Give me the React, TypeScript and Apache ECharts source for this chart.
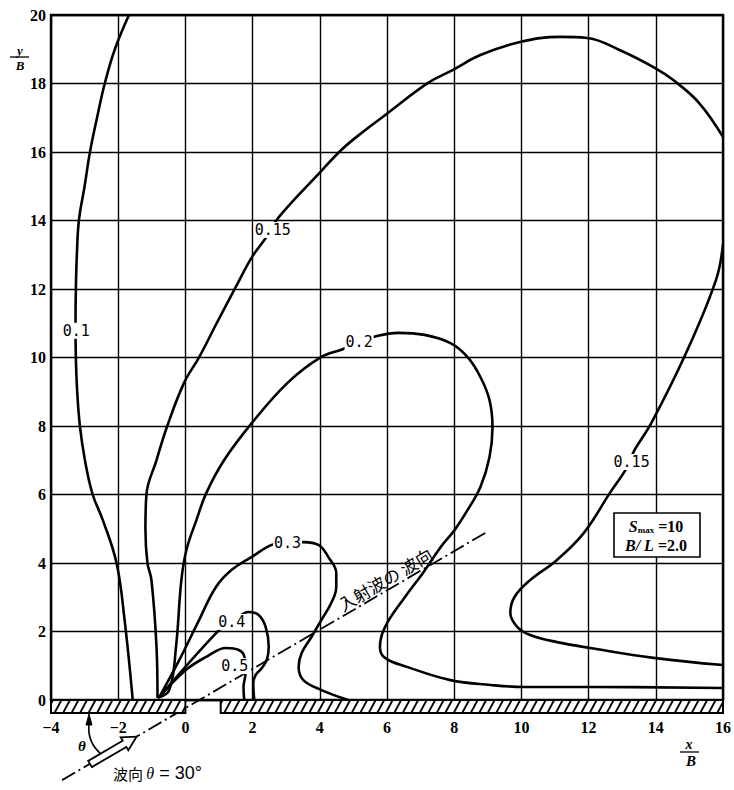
import React, { useEffect, useRef } from "react";
import * as echarts from "echarts";

// ---- axis ticks ----
const xTicks = { min: -4, max: 16, step: 2 };
const yTicks = { min: 0, max: 20, step: 2 };

// ---- contour lines (x/B, y/B) ----
const c010: number[][] = [[-1.57, 0.03], [-1.81, 2.34], [-2.05, 4.0], [-2.46, 5.26], [-2.76, 6.0], [-2.99, 7.0], [-3.14, 8.0], [-3.22, 9.0], [-3.26, 10.0], [-3.27, 11.0], [-3.26, 12.0], [-3.23, 13.0], [-3.17, 14.0], [-3.0, 15.0], [-2.84, 16.0], [-2.63, 17.0], [-2.4, 18.0], [-2.1, 19.0], [-1.68, 20.0]];
const c015a: number[][] = [[-0.83, 0.06], [-0.86, 1.55], [-1.01, 3.5], [-1.13, 4.0], [-1.19, 5.0], [-1.16, 6.0], [-0.86, 7.0], [-0.54, 8.0], [-0.04, 9.26], [0.41, 10.01], [0.93, 11.0], [1.5, 12.06], [1.98, 12.93], [2.39, 13.49], [2.78, 14.1], [4.02, 15.42], [4.64, 16.06], [5.3, 16.6], [5.95, 17.08], [7.21, 18.01], [7.95, 18.39], [8.78, 18.83], [9.96, 19.21], [11.15, 19.36], [11.95, 19.33], [12.92, 18.98], [13.93, 18.48], [14.52, 18.1], [15.29, 17.43], [16.0, 16.44]];
const c015b: number[][] = [[16.0, 13.3], [15.79, 12.26], [14.9, 10.13], [13.87, 8.09], [13.37, 7.3], [13.13, 6.77], [12.63, 6.04], [11.86, 4.88], [11.06, 4.09], [10.26, 3.5], [9.79, 3.0], [9.67, 2.54], [9.88, 2.13], [10.26, 1.9], [11.06, 1.69], [12.04, 1.52], [13.93, 1.23], [16.0, 1.02]];
const c020: number[][] = [[-0.83, 0.06], [-0.48, 0.29], [-0.28, 1.55], [-0.12, 3.5], [0.03, 4.38], [0.33, 5.26], [0.62, 6.04], [1.15, 7.0], [1.98, 8.09], [3.04, 9.26], [4.0, 9.99], [4.7, 10.25], [5.17, 10.45], [5.59, 10.6], [6.33, 10.72], [7.12, 10.66], [7.89, 10.42], [8.4, 10.01], [8.78, 9.43], [9.05, 8.76], [9.14, 7.97], [9.05, 7.09], [8.78, 6.22], [8.4, 5.55], [8.01, 4.96], [7.6, 4.47], [7.07, 3.71], [6.53, 3.0], [5.94, 2.13], [5.79, 1.55], [5.94, 1.23], [6.62, 0.96], [7.89, 0.58], [9.08, 0.44], [10.08, 0.38], [12.04, 0.38], [16.0, 0.35]];
const c030: number[][] = [[-0.78, 0.08], [-0.18, 1.17], [0.41, 2.34], [0.91, 3.3], [1.38, 3.8], [1.98, 4.18], [2.57, 4.53], [3.04, 4.6], [3.51, 4.61], [3.96, 4.53], [4.25, 4.18], [4.49, 3.71], [4.49, 3.3], [4.34, 2.83], [4.05, 2.34], [3.75, 1.84], [3.46, 1.37], [3.37, 0.96], [3.51, 0.58], [4.05, 0.29], [4.85, 0.0]];
const c040: number[][] = [[-0.78, 0.08], [1.0, 2.04], [1.38, 2.28], [1.89, 2.57], [2.18, 2.48], [2.39, 2.13], [2.48, 1.55], [2.42, 1.17], [2.27, 0.93], [2.09, 0.73], [2.02, 0.5], [2.05, 0.0]];
const c050: number[][] = [[-0.78, 0.08], [0.02, 0.88], [0.62, 1.26], [1.21, 1.52], [1.59, 1.46], [1.76, 1.25], [1.79, 0.79], [1.73, 0.38], [1.75, 0.0]];

// ---- contour labels ----
const labelX = [-3.25, 2.6, 5.17, 3.04, 1.38, 1.47, 13.28];
const labelY = [10.78, 13.72, 10.45, 4.58, 2.28, 0.99, 6.95];
const labelText = ["0.1", "0.15", "0.2", "0.3", "0.4", "0.5", "0.15"];

// ---- incident wave direction (theta = 30 deg) ----
const waveDir: number[][] = [[-3.67, -2.34], [8.93, 4.88]];

// ---- breakwater segments (x/B) ----
const breakwaterStart = [-4, 1.05];
const breakwaterEnd = [0, 16];

const FONT_SERIF = "Liberation Serif";

function contourSeries(data: number[][]) {
  return {
    type: "line",
    data,
    smooth: 0.4,
    showSymbol: false,
    symbol: "none",
    lineStyle: { color: "#000", width: 2.6 },
    z: 3,
  };
}

export default function App() {
  const ref = useRef<HTMLDivElement>(null);
  useEffect(() => {
    if (!ref.current) return;
    const chart = echarts.init(ref.current, null, { renderer: "svg" });

    // hollow arrow along wave direction (px)
    const ang = (30.4 * Math.PI) / 180;
    const ux = Math.cos(ang), uy = -Math.sin(ang);
    const nx = -uy, ny = ux;
    const T = [90, 764];
    const L = 54, HL = 14, bw = 3.6, hw = 7.5;
    const B = [T[0] + (L - HL) * ux, T[1] + (L - HL) * uy];
    const tip = [T[0] + L * ux, T[1] + L * uy];
    const arrowPts = [
      [T[0] + bw * nx, T[1] + bw * ny],
      [B[0] + bw * nx, B[1] + bw * ny],
      [B[0] + hw * nx, B[1] + hw * ny],
      tip,
      [B[0] - hw * nx, B[1] - hw * ny],
      [B[0] - bw * nx, B[1] - bw * ny],
      [T[0] - bw * nx, T[1] - bw * ny],
    ];

    const option: any = {
      animation: false,
      backgroundColor: "#fff",
      grid: {
        left: 51,
        right: 7,
        top: 15,
        bottom: 90,
        show: true,
        borderColor: "#000",
        borderWidth: 2.4,
        backgroundColor: "transparent",
      },
      xAxis: {
        type: "value",
        min: xTicks.min,
        max: xTicks.max,
        interval: xTicks.step,
        axisLine: { show: false },
        axisTick: { show: false },
        splitLine: { show: true, lineStyle: { color: "#000", width: 1.4 } },
        axisLabel: {
          margin: 19,
          fontSize: 16,
          fontWeight: "bold",
          fontFamily: FONT_SERIF,
          color: "#000",
          formatter: (v: number) => (v < 0 ? "\u2212" + -v : String(v)),
        },
      },
      yAxis: {
        type: "value",
        min: yTicks.min,
        max: yTicks.max,
        interval: yTicks.step,
        axisLine: { show: false },
        axisTick: { show: false },
        splitLine: { show: true, lineStyle: { color: "#000", width: 1.4 } },
        axisLabel: {
          margin: 5,
          fontSize: 16,
          fontWeight: "bold",
          fontFamily: FONT_SERIF,
          color: "#000",
        },
      },
      series: [
        contourSeries(c010),
        contourSeries(c015a),
        contourSeries(c015b),
        contourSeries(c020),
        contourSeries(c030),
        contourSeries(c040),
        contourSeries(c050),
        {
          type: "line",
          data: waveDir,
          clip: false,
          showSymbol: false,
          symbol: "none",
          lineStyle: { color: "#000", width: 1.8, type: [15, 4, 2, 4] },
          z: 2,
        },
        {
          type: "custom",
          clip: false,
          z: 4,
          data: breakwaterStart.map((s, i) => [s, breakwaterEnd[i]]),
          encode: { x: [0, 1] },
          renderItem: (params: any, api: any) => {
            const a = api.coord([api.value(0), 0]);
            const b = api.coord([api.value(1), 0]);
            const h = 13;
            const top = a[1];
            const bottom = top + h;
            const left = a[0];
            const right = b[0];
            const children: any[] = [
              {
                type: "rect",
                shape: { x: left, y: top, width: right - left, height: h },
                style: { fill: "#fff", stroke: "#000", lineWidth: 2 },
              },
            ];
            const d = 7;
            const step = 8.5;
            for (let s = left - d + 2; s < right; s += step) {
              let x1 = s, y1 = bottom, x2 = s + d, y2 = top;
              if (x1 < left) {
                const t = (left - x1) / d;
                x1 = left;
                y1 = bottom - t * h;
              }
              if (x2 > right) {
                const t = (x2 - right) / d;
                x2 = right;
                y2 = top + t * h;
              }
              if (x2 <= x1) continue;
              children.push({
                type: "line",
                shape: { x1, y1, x2, y2 },
                style: { stroke: "#000", lineWidth: 1.8 },
              });
            }
            return { type: "group", children };
          },
        },
        {
          type: "scatter",
          symbolSize: 0,
          itemStyle: { color: "#000", opacity: 1 },
          z: 6,
          data: labelX.map((x, i) => ({ value: [x, labelY[i]], name: labelText[i] })),
          label: {
            show: true,
            position: "inside",
            formatter: "{b}",
            fontFamily: "DejaVu Sans Mono",
            fontSize: 15,
            color: "#000",
            opacity: 1,
            backgroundColor: "#ffffff",
            padding: [1, 1, 0, 1],
          },
          emphasis: { disabled: true },
        },
      ],
      graphic: [
        // y/B
        { type: "text", z: 100, x: 20, y: 50, style: { text: "y", fontSize: 13, fontStyle: "italic", fontWeight: "bold", fontFamily: FONT_SERIF, fill: "#000", align: "center", verticalAlign: "middle" } },
        { type: "line", z: 100, shape: { x1: 10, y1: 57, x2: 29, y2: 57 }, style: { stroke: "#000", lineWidth: 1.3 } },
        { type: "text", z: 100, x: 20, y: 65, style: { text: "B", fontSize: 13, fontStyle: "italic", fontWeight: "bold", fontFamily: FONT_SERIF, fill: "#000", align: "center", verticalAlign: "middle" } },
        // x/B
        { type: "text", z: 100, x: 689, y: 744, style: { text: "x", fontSize: 14, fontStyle: "italic", fontWeight: "bold", fontFamily: FONT_SERIF, fill: "#000", align: "center", verticalAlign: "middle" } },
        { type: "line", z: 100, shape: { x1: 680, y1: 752, x2: 699, y2: 752 }, style: { stroke: "#000", lineWidth: 1.3 } },
        { type: "text", z: 100, x: 691, y: 761, style: { text: "B", fontSize: 15, fontStyle: "italic", fontWeight: "bold", fontFamily: FONT_SERIF, fill: "#000", align: "center", verticalAlign: "middle" } },
        // parameter box
        { type: "rect", z: 100, shape: { x: 614, y: 513, width: 86, height: 44 }, style: { fill: "#fff", stroke: "#000", lineWidth: 1.6 } },
        {
          type: "text", z: 101, x: 656, y: 526,
          style: {
            text: "{i|S}{s|max}{n| =10}",
            align: "center", verticalAlign: "middle", fill: "#000",
            rich: {
              i: { fontSize: 16, fontStyle: "italic", fontWeight: "bold", fontFamily: FONT_SERIF },
              s: { fontSize: 9, fontWeight: "bold", fontFamily: FONT_SERIF, padding: [7, 0, 0, 0] },
              n: { fontSize: 16, fontWeight: "bold", fontFamily: FONT_SERIF },
            },
          },
        },
        {
          type: "text", z: 101, x: 656, y: 545,
          style: {
            text: "{i|B/ L}{n| =2.0}",
            align: "center", verticalAlign: "middle", fill: "#000",
            rich: {
              i: { fontSize: 16, fontStyle: "italic", fontWeight: "bold", fontFamily: FONT_SERIF },
              n: { fontSize: 16, fontWeight: "bold", fontFamily: FONT_SERIF },
            },
          },
        },
        // incident wave label along the dash-dot line
        {
          type: "text", z: 100, x: 385, y: 579, rotation: ang,
          style: { text: "入射波の 波向", fontSize: 17, fontFamily: "Noto Sans CJK JP", fill: "#000", align: "center", verticalAlign: "middle" },
        },
        // hollow arrow
        { type: "polygon", z: 100, shape: { points: arrowPts }, style: { fill: "#fff", stroke: "#000", lineWidth: 1.8 } },
        // theta arc with arrowhead
        { type: "bezierCurve", z: 100, shape: { x1: 89, y1: 724, cpx1: 87, cpy1: 742, x2: 101, y2: 754 }, style: { stroke: "#000", lineWidth: 1.6, fill: null } },
        { type: "polygon", z: 100, shape: { points: [[89, 714], [86, 725], [92, 725]] }, style: { fill: "#000", stroke: "#000", lineWidth: 1 } },
        { type: "text", z: 100, x: 82, y: 746, style: { text: "θ", fontSize: 15, fontStyle: "italic", fontWeight: "bold", fontFamily: FONT_SERIF, fill: "#000", align: "center", verticalAlign: "middle" } },
        // wave direction caption
        {
          type: "text", z: 100, x: 113, y: 773,
          style: {
            text: "{c|波向 }{t|θ}{n| = 30°}",
            align: "left", verticalAlign: "middle", fill: "#000",
            rich: {
              c: { fontSize: 15, fontFamily: "Noto Sans CJK JP" },
              t: { fontSize: 16, fontStyle: "italic", fontFamily: FONT_SERIF },
              n: { fontSize: 18, fontFamily: "Liberation Sans" },
            },
          },
        },
      ],
    };
    chart.setOption(option);
    return () => chart.dispose();
  }, []);
  return (
    <div
      ref={ref}
      style={{ position: "fixed", left: 0, top: 0, width: 734, height: 790, background: "#fff" }}
    />
  );
}
